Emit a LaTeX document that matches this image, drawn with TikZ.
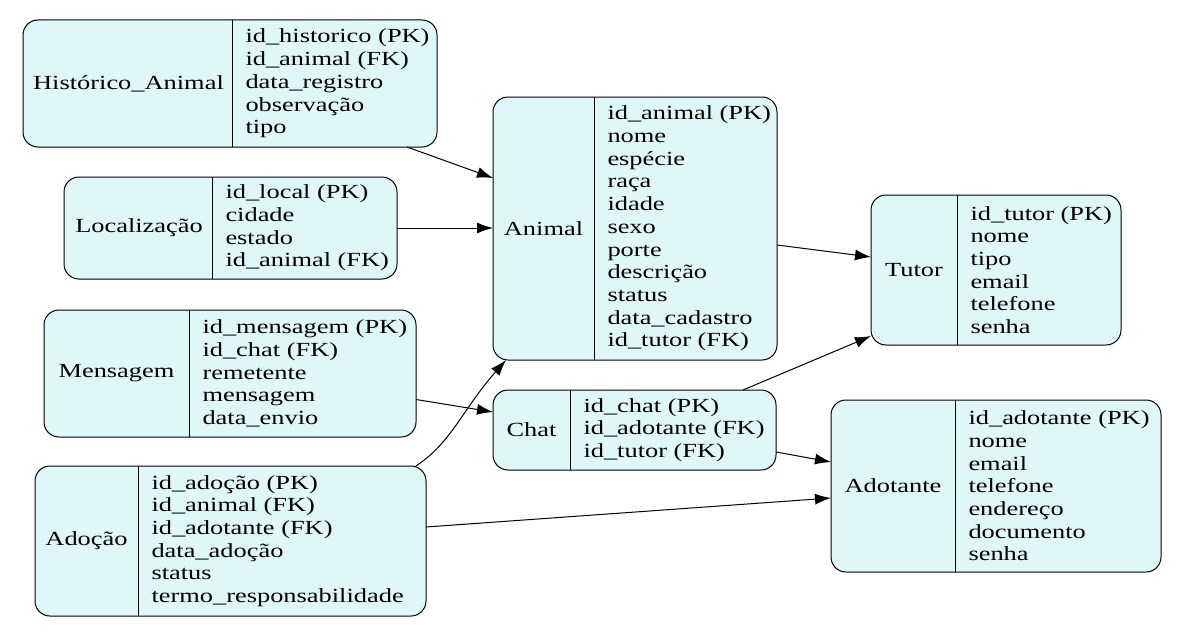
\documentclass[tikz,border=0pt]{standalone}
\usepackage{fontspec}
\setmainfont{Liberation Serif}[FakeStretch=1.32]
\usetikzlibrary{arrows.meta}
\definecolor{boxfill}{HTML}{E0F7FA}
\begin{document}
\begin{tikzpicture}[x=1pt,y=-1pt,>={Latex[length=16pt,width=11pt]},line width=1pt,
    box/.style={draw,fill=boxfill,rounded corners=15pt,inner sep=0pt,outer sep=0pt},
    title/.style={inner sep=0pt,font={\fontsize{20}{22.7}\selectfont}},
    fields/.style={anchor=west,align=left,inner sep=0pt,font={\fontsize{20}{22.7}\selectfont}}]
\useasboundingbox (0,0) rectangle (1186,642);
% Historico_Animal
\node[box,minimum width=414pt,minimum height=127pt] (hist) at (230,83.5) {};
\draw (232,20)--(232,147);
\node[title] (hist-t) at (128.5,83.5) {Histórico\_Animal};
\node[fields] (hist-f) at (245,83.5) {id\_historico (PK)\\id\_animal (FK)\\data\_registro\\observação\\tipo};
% Localizacao
\node[box,minimum width=333pt,minimum height=102pt] (local) at (230.5,228) {};
\draw (212,177)--(212,279);
\node[title] (local-t) at (139,228) {Localização};
\node[fields] (local-f) at (225,228) {id\_local (PK)\\cidade\\estado\\id\_animal (FK)};
% Mensagem
\node[box,minimum width=372pt,minimum height=127pt] (msg) at (230,373.5) {};
\draw (189,310)--(189,437);
\node[title] (msg-t) at (116.5,373.5) {Mensagem};
\node[fields] (msg-f) at (202,373.5) {id\_mensagem (PK)\\id\_chat (FK)\\remetente\\mensagem\\data\_envio};
% Adocao
\node[box,minimum width=391pt,minimum height=150pt] (adocao) at (230.5,541) {};
\draw (138,466)--(138,616);
\node[title] (adocao-t) at (86.5,541) {Adoção};
\node[fields] (adocao-f) at (151,541) {id\_adoção (PK)\\id\_animal (FK)\\id\_adotante (FK)\\data\_adoção\\status\\termo\_responsabilidade};
% Animal
\node[box,minimum width=284pt,minimum height=263pt] (animal) at (635,228.5) {};
\draw (594,97)--(594,360);
\node[title] (animal-t) at (543.5,228.5) {Animal};
\node[fields] (animal-f) at (607,228.5) {id\_animal (PK)\\nome\\espécie\\raça\\idade\\sexo\\porte\\descrição\\status\\data\_cadastro\\id\_tutor (FK)};
% Chat
\node[box,minimum width=283pt,minimum height=80pt] (chat) at (634.5,430) {};
\draw (570,390)--(570,470);
\node[title] (chat-t) at (531.5,430) {Chat};
\node[fields] (chat-f) at (583,430) {id\_chat (PK)\\id\_adotante (FK)\\id\_tutor (FK)};
% Tutor
\node[box,minimum width=250pt,minimum height=150pt] (tutor) at (996,270) {};
\draw (957,195)--(957,345);
\node[title] (tutor-t) at (914,270) {Tutor};
\node[fields] (tutor-f) at (970,270) {id\_tutor (PK)\\nome\\tipo\\email\\telefone\\senha};
% Adotante
\node[box,minimum width=330pt,minimum height=172pt] (adotante) at (996,486) {};
\draw (955,400)--(955,572);
\node[title] (adotante-t) at (893,486) {Adotante};
\node[fields] (adotante-f) at (968,486) {id\_adotante (PK)\\nome\\email\\telefone\\endereço\\documento\\senha};
% relacoes
\draw[->] (hist.south -| 407,0)--(animal.west |- 0,178);
\draw[->] (local.east)--(animal.west |- local.east);
\draw[->] (animal.east |- 0,245)--(tutor.west |- 0,257);
\draw[->] (msg.east |- 0,399.5)--(chat.west |- 0,412);
\draw[->] (adocao.north -| 416,0) .. controls (452,442) and (462,410) .. (animal.south -| 506,0);
\draw[->] (chat.north -| 743,0)--(tutor.west |- 0,336);
\draw[->] (chat.east |- 0,452)--(adotante.west |- 0,462);
\draw[->] (adocao.east |- 0,527)--(adotante.west |- 0,498);
\end{tikzpicture}
\end{document}
